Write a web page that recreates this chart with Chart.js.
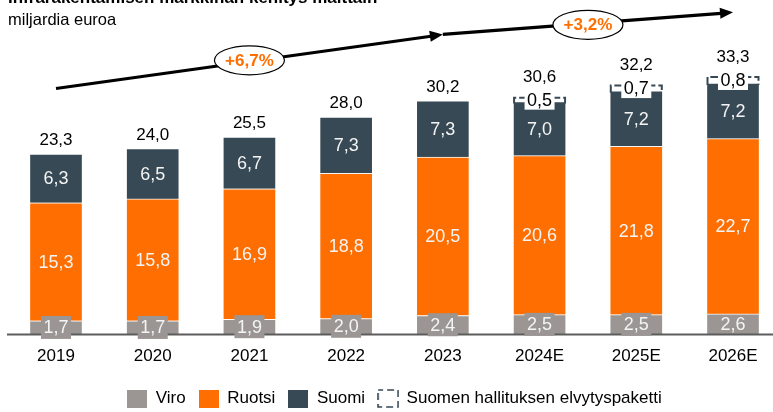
<!DOCTYPE html>
<html>
<head>
<meta charset="utf-8">
<script src="https://cdn.jsdelivr.net/npm/chart.js@4.4.1/dist/chart.umd.min.js"></script>
<style>
  html, body { margin: 0; padding: 0; background: #fff; overflow: hidden; }
  #wrap { position: relative; width: 773px; height: 412px; }
</style>
</head>
<body>
<div id="wrap"><canvas id="myChart"></canvas></div>
<script>
// data (miljardia euroa)
const years = ['2019', '2020', '2021', '2022', '2023', '2024E', '2025E', '2026E'];
const viro = [1.7, 1.7, 1.9, 2.0, 2.4, 2.5, 2.5, 2.6];
const ruotsi = [15.3, 15.8, 16.9, 18.8, 20.5, 20.6, 21.8, 22.7];
const suomi = [6.3, 6.5, 6.7, 7.3, 7.3, 7.0, 7.2, 7.2];
const elvytys = [null, null, null, null, null, 0.5, 0.7, 0.8];
const totals = [23.3, 24.0, 25.5, 28.0, 30.2, 30.6, 32.2, 33.3];
const growth = ['+6,7%', '+3,2%'];

const GRAY = '#9b9693';
const ORANGE = '#ff6e00';
const SLATE = '#364954';
const FONT = '"Liberation Sans", Arial, sans-serif';

const fmt = v => v.toFixed(1).replace('.', ',');

// legend icons
function swatch(color) {
    const c = document.createElement('canvas');
    c.width = 20; c.height = 18;
    const g = c.getContext('2d');
    g.fillStyle = color;
    g.fillRect(0, 0, 20, 18);
    return c;
}
function bracketIcon() {
    const c = document.createElement('canvas');
    c.width = 22; c.height = 19;
    const g = c.getContext('2d');
    g.strokeStyle = SLATE;
    g.lineWidth = 1.6;
    g.setLineDash([7, 4]);
    g.lineDashOffset = 2;
    g.strokeRect(1, 1, 20, 17);
    return c;
}
const icons = [swatch(GRAY), swatch(ORANGE), swatch(SLATE), bracketIcon()];

// value labels, axis line and the dashed bracket
const labelPlugin = {
    id: 'valueLabels',
    afterDatasetsDraw(chart) {
        const ctx = chart.ctx;
        const area = chart.chartArea;
        const yScale = chart.scales.y;
        ctx.save();

        ctx.strokeStyle = '#5c5c5c';
        ctx.lineWidth = 2;
        ctx.beginPath();
        ctx.moveTo(7, area.bottom + 0.5);
        ctx.lineTo(chart.width, area.bottom + 0.5);
        ctx.stroke();

        ctx.textAlign = 'center';
        ctx.textBaseline = 'middle';
        ctx.font = '18px ' + FONT;

        [viro, ruotsi, suomi].forEach((arr, di) => {
            chart.getDatasetMeta(di).data.forEach((bar, i) => {
                const p = bar.getProps(['x', 'y', 'base'], true);
                const cy = (p.y + p.base) / 2;
                if (di === 0 && p.base - p.y < 20) {
                    ctx.fillStyle = GRAY;
                    ctx.fillRect(p.x - 15, cy - 11.5, 30, 23);
                }
                ctx.fillStyle = '#f4f4f4';
                ctx.fillText(fmt(arr[i]), p.x, cy + 1);
            });
        });

        chart.getDatasetMeta(3).data.forEach((bar, i) => {
            if (elvytys[i] == null) return;
            const p = bar.getProps(['x', 'y', 'base', 'width'], true);
            const l = p.x - p.width / 2 + 1, r = p.x + p.width / 2 - 1;
            ctx.strokeStyle = SLATE;
            ctx.lineWidth = 2;
            ctx.setLineDash([8, 3]);
            ctx.beginPath();
            ctx.moveTo(l, p.base + 2);
            ctx.lineTo(l, p.y);
            ctx.lineTo(r, p.y);
            ctx.lineTo(r, p.base + 2);
            ctx.stroke();
            ctx.setLineDash([]);
            const cy = (p.y + p.base) / 2;
            ctx.fillStyle = '#fff';
            ctx.fillRect(p.x - 15, cy - 8, 30, 18);
            ctx.fillStyle = '#000';
            ctx.fillText(fmt(elvytys[i]), p.x, cy + 1);
        });

        ctx.font = '17px ' + FONT;
        ctx.fillStyle = '#000';
        totals.forEach((t, i) => {
            const sum = viro[i] + ruotsi[i] + suomi[i] + (elvytys[i] || 0);
            const top = yScale.getPixelForValue(sum);
            const x = chart.scales.x.getPixelForValue(i);
            ctx.fillText(fmt(t), x, top - (elvytys[i] == null ? 13.5 : 20));
        });
        ctx.restore();
    }
};

// growth arrows, titles
function arrow(ctx, x0, y0, x1, y1) {
    const a = Math.atan2(y1 - y0, x1 - x0);
    const hl = 13, hw = 5.5;
    const bx = x1 - hl * Math.cos(a), by = y1 - hl * Math.sin(a);
    ctx.lineWidth = 3.2;
    ctx.beginPath();
    ctx.moveTo(x0, y0);
    ctx.lineTo(bx + 1, by);
    ctx.stroke();
    ctx.beginPath();
    ctx.moveTo(x1, y1);
    ctx.lineTo(bx + hw * Math.sin(a), by - hw * Math.cos(a));
    ctx.lineTo(bx - hw * Math.sin(a), by + hw * Math.cos(a));
    ctx.closePath();
    ctx.fill();
}
function bubble(ctx, x, y, text) {
    ctx.beginPath();
    ctx.ellipse(x, y, 35, 14.5, 0, 0, Math.PI * 2);
    ctx.fillStyle = '#fff';
    ctx.fill();
    ctx.lineWidth = 1.2;
    ctx.strokeStyle = '#000';
    ctx.stroke();
    ctx.fillStyle = ORANGE;
    ctx.font = 'bold 17px ' + FONT;
    ctx.textAlign = 'center';
    ctx.textBaseline = 'middle';
    ctx.fillText(text, x, y + 1);
}

const trendPlugin = {
    id: 'trend',
    afterDraw(chart) {
        const ctx = chart.ctx;
        const xs = chart.scales.x, ys = chart.scales.y;
        ctx.save();
        ctx.fillStyle = '#000';
        ctx.strokeStyle = '#000';
        arrow(ctx, xs.getPixelForValue(0), ys.getPixelForValue(31.8),
                   xs.getPixelForValue(4), ys.getPixelForValue(38.8));
        arrow(ctx, xs.getPixelForValue(4), ys.getPixelForValue(38.8),
                   xs.getPixelForValue(7), ys.getPixelForValue(41.66));
        bubble(ctx, xs.getPixelForValue(2), ys.getPixelForValue(35.45), growth[0]);
        bubble(ctx, xs.getPixelForValue(5.5), ys.getPixelForValue(40.05), growth[1]);

        ctx.fillStyle = '#000';
        ctx.textAlign = 'left';
        ctx.textBaseline = 'alphabetic';
        ctx.font = 'bold 17px ' + FONT;
        ctx.fillText('Infrarakentamisen markkinan kehitys maittain', 8, 3);
        ctx.font = '16.5px ' + FONT;
        ctx.textBaseline = 'middle';
        ctx.fillText('miljardia euroa', 8, 20);
        ctx.restore();
    }
};

const barBase = { barThickness: 53, clip: false, borderColor: 'rgba(255,255,255,0.85)', borderWidth: 1 };

const data = {
    labels: years,
    datasets: [
        Object.assign({ label: 'Viro', data: viro, backgroundColor: GRAY }, barBase),
        Object.assign({ label: 'Ruotsi', data: ruotsi, backgroundColor: ORANGE }, barBase),
        Object.assign({ label: 'Suomi', data: suomi, backgroundColor: SLATE }, barBase),
        { label: 'Suomen hallituksen elvytyspaketti', data: elvytys, backgroundColor: '#fff',
          borderWidth: 0, barThickness: 53, clip: false }
    ]
};

const ctx = document.getElementById('myChart').getContext('2d');
const myChart = new Chart(ctx, {
    type: 'bar',
    data: data,
    options: {
        responsive: true,
        maintainAspectRatio: false,
        animation: false,
        layout: { padding: { top: 2, left: 56, right: 40, bottom: 0 } },
        scales: {
            x: {
                stacked: true,
                offset: false,
                grid: { display: false, drawTicks: false },
                border: { display: false },
                ticks: { color: '#000', padding: 12, font: { size: 17, family: FONT } },
                afterFit: scale => { scale.height = 43; }
            },
            y: {
                stacked: true,
                display: false,
                min: 0,
                max: 43
            }
        },
        plugins: {
            tooltip: { enabled: false },
            legend: {
                position: 'bottom',
                maxHeight: 35,
                labels: {
                    usePointStyle: true,
                    pointStyleWidth: 20,
                    padding: 13,
                    color: '#000',
                    font: { size: 17, family: FONT },
                    generateLabels: chart => chart.data.datasets.map((ds, i) => ({
                        text: ds.label,
                        pointStyle: icons[i],
                        datasetIndex: i,
                        hidden: !chart.isDatasetVisible(i),
                        fontColor: '#000',
                        lineWidth: 0
                    }))
                }
            }
        }
    },
    plugins: [labelPlugin, trendPlugin]
});
</script>
</body>
</html>
